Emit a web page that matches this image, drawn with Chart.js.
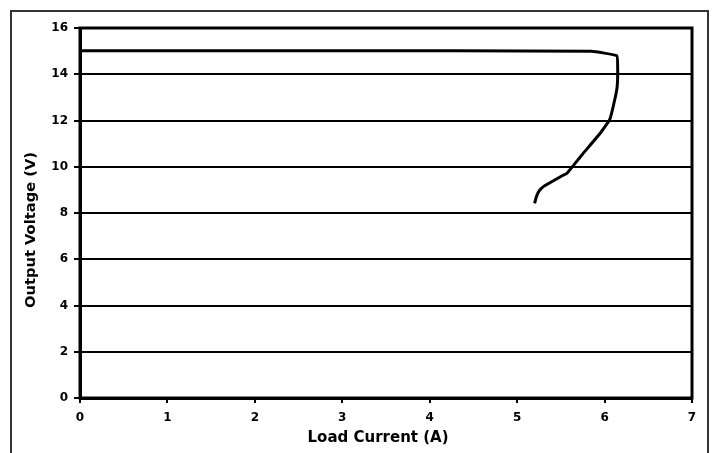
<!DOCTYPE html>
<html>
<head>
<meta charset="utf-8">
<script src="https://cdn.jsdelivr.net/npm/chart.js@4/dist/chart.umd.min.js"></script>
<style>
  html, body { margin: 0; padding: 0; background: #fff; }
  #wrap { width: 715px; height: 453px; position: relative; }
</style>
</head>
<body>
<div id="wrap"><canvas id="c" width="715" height="453"></canvas></div>
<script>
// Load regulation curve: output voltage versus load current
const loadCurrent = [0, 2.7, 5.85, 6.14, 6.15, 6.145, 6.12, 6.06, 5.95, 5.74, 5.57, 5.50, 5.40, 5.30, 5.25, 5.22, 5.20];
const outputVoltage = [15.02, 15.02, 14.99, 14.8, 14.2, 13.5, 12.96, 12.05, 11.45, 10.51, 9.72, 9.58, 9.36, 9.14, 8.95, 8.7, 8.42];
const xTicks = [0, 1, 2, 3, 4, 5, 6, 7];
const yTicks = [0, 2, 4, 6, 8, 10, 12, 14, 16];
const xTitle = 'Load Current (A)';
const yTitle = 'Output Voltage (V)';

const points = loadCurrent.map((x, i) => ({ x: x, y: outputVoltage[i] }));

const fontFamily = 'DejaVu Sans, Liberation Sans, Arial, sans-serif';
const tickFont = { family: fontFamily, size: 12, weight: 'bold' };

// Plot frame, outer panel border and the two axis titles
const framePlugin = {
  id: 'frames',
  afterDraw(chart) {
    const ctx = chart.ctx;
    const a = chart.chartArea;
    ctx.save();
    ctx.strokeStyle = '#000';
    ctx.lineWidth = 3;
    ctx.strokeRect(a.left, a.top, a.right - a.left, a.bottom - a.top);
    ctx.strokeStyle = '#333';
    ctx.lineWidth = 2;
    ctx.beginPath();
    ctx.moveTo(11, 460);
    ctx.lineTo(11, 11);
    ctx.lineTo(708, 11);
    ctx.lineTo(708, 460);
    ctx.stroke();

    ctx.fillStyle = '#000';
    ctx.textAlign = 'center';
    ctx.textBaseline = 'middle';
    ctx.font = 'bold 15px ' + fontFamily;
    ctx.fillText(xTitle, a.left + (a.right - a.left) * 0.487, 438);

    ctx.translate(31, a.top + (a.bottom - a.top) * 0.546);
    ctx.rotate(-Math.PI / 2);
    ctx.font = 'bold 14.7px ' + fontFamily;
    ctx.fillText(yTitle, 0, 0);
    ctx.restore();
  }
};

new Chart(document.getElementById('c'), {
  type: 'scatter',
  data: {
    datasets: [{
      data: points,
      showLine: true,
      borderColor: '#000',
      borderWidth: 3,
      pointRadius: 0,
      tension: 0.1,
      fill: false
    }]
  },
  options: {
    responsive: false,
    animation: false,
    devicePixelRatio: 1,
    layout: { padding: { top: 28, right: 23, left: 0, bottom: 0 } },
    plugins: { legend: { display: false }, tooltip: { enabled: false } },
    scales: {
      x: {
        type: 'linear',
        min: 0, max: 7,
        afterFit(scale) { scale.height = 55; },
        afterBuildTicks(scale) { scale.ticks = xTicks.map(v => ({ value: v })); },
        grid: { drawOnChartArea: false, drawTicks: true, tickLength: 5, color: '#000', lineWidth: 2 },
        border: { display: true, color: '#000', width: 3 },
        ticks: { color: '#000', font: tickFont, padding: 8, maxRotation: 0 }
      },
      y: {
        type: 'linear',
        min: 0, max: 16,
        afterFit(scale) { scale.width = 80; },
        afterBuildTicks(scale) { scale.ticks = yTicks.map(v => ({ value: v })); },
        grid: { drawOnChartArea: true, drawTicks: true, tickLength: 6, color: '#000', lineWidth: 2 },
        border: { display: true, color: '#000', width: 3 },
        ticks: { color: '#000', font: tickFont, padding: 6 }
      }
    }
  },
  plugins: [framePlugin]
});
</script>
</body>
</html>
